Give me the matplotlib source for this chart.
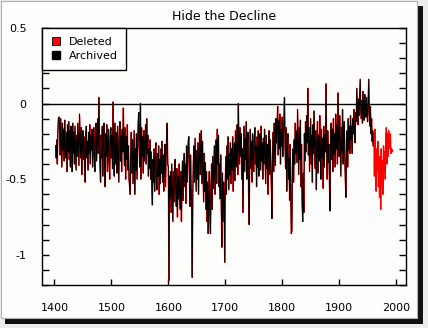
import numpy as np
import matplotlib
matplotlib.use("Agg")
import matplotlib.pyplot as plt
from matplotlib.lines import Line2D
from matplotlib.patches import Rectangle
from matplotlib.ticker import MultipleLocator, FuncFormatter

# tree ring density reconstruction, one value per year from 1402
start_year = 1402
archived_end = 1960

values_1400s = [
    -0.28, -0.36, -0.24, -0.40, -0.18, -0.10, -0.09, -0.16,
    -0.34, -0.10, -0.25, -0.42, -0.13, -0.31, -0.17, -0.38, -0.11, -0.29,
    -0.36, -0.19, -0.45, -0.14, -0.32, -0.12, -0.37, -0.18, -0.42, -0.15,
    -0.27, -0.45, -0.13, -0.33, -0.19, -0.40, -0.15, -0.30, -0.44, -0.21,
    -0.35, -0.13, -0.28, -0.41, -0.07, -0.22, -0.36, -0.16, -0.47, -0.28,
    -0.18, -0.37, -0.22, -0.43, -0.52, -0.20, -0.15, -0.36, -0.25, -0.44,
    -0.19, -0.33, -0.14, -0.40, -0.21, -0.31, -0.17, -0.42, -0.26, -0.16,
    -0.34, -0.45, -0.20, -0.13, -0.38, -0.24, -0.10, -0.33, 0.04, -0.22,
    -0.42, -0.52, -0.21, -0.36, -0.15, -0.48, -0.27, -0.13, -0.40, -0.55,
    -0.20, -0.35, -0.14, -0.45, -0.26, -0.17, -0.39, -0.50, -0.22, -0.16,
]
values_1500s = [
    -0.36, -0.21, -0.43, 0.01, -0.31, -0.48, -0.13, -0.40, -0.19, -0.30,
    -0.46, -0.15, -0.34, -0.52, -0.23, -0.12, -0.38, -0.21, -0.45, -0.17,
    -0.32, -0.03, -0.27, -0.41, -0.16, -0.50, -0.22, -0.37, -0.14, -0.44,
    -0.28, -0.50, -0.55, -0.60, -0.33, -0.19, -0.46, -0.24, -0.53, -0.36,
    -0.18, -0.60, -0.30, -0.44, -0.20, -0.50, -0.32, -0.13, -0.06, -0.30,
    -0.42, 0.00, -0.50, -0.16, -0.35, -0.22, -0.46, -0.18, -0.38, -0.27,
    -0.14, -0.40, -0.10, -0.33, -0.21, -0.48, -0.30, -0.43, -0.24, -0.50,
    -0.32, -0.55, -0.67, -0.37, -0.52, -0.30, -0.58, -0.35, -0.26, -0.50,
    -0.57, -0.33, -0.48, -0.28, -0.60, -0.37, -0.53, -0.30, -0.46, -0.25,
    -0.52, -0.34, -0.58, -0.40, -0.27, -0.55, -0.36, -0.22, -0.13, -0.40,
]
values_1600s = [
    -0.42, -1.17, -0.48, -0.62, -0.45, -0.72, -0.40, -0.60, -0.78, -0.45,
    -0.65, -0.42, -0.37, -0.58, -0.68, -0.43, -0.75, -0.48, -0.63, -0.40,
    -0.60, -0.70, -0.45, -0.78, -0.50, -0.38, -0.64, -0.42, -0.33, -0.55,
    -0.40, -0.66, -0.28, -0.52, -0.36, -0.25, -0.22, -0.50, -0.68, -0.34,
    -0.55, -0.70, -1.15, -0.58, -0.38, -0.28, -0.52, -0.23, -0.42, -0.58,
    -0.31, -0.50, -0.26, -0.60, -0.34, -0.20, -0.47, -0.28, -0.18, -0.53,
    -0.25, -0.44, -0.65, -0.33, -0.58, -0.39, -0.70, -0.45, -0.78, -0.52,
    -0.86, -0.60, -0.45, -0.74, -0.86, -0.55, -0.40, -0.70, -0.35, -0.56,
    -0.47, -0.28, -0.60, -0.38, -0.24, -0.53, -0.17, -0.40, -0.21, -0.55,
    -0.40, -0.63, -0.34, -0.68, -0.95, -0.46, -0.78, -0.52, -0.62, -1.05,
]
values_1700s = [
    -0.52, -0.35, -0.60, -0.28, -0.50, -0.22, -0.57, -0.33, -0.47, -0.26,
    -0.53, -0.30, -0.44, -0.22, -0.58, -0.34, -0.26, -0.51, -0.18, -0.42,
    -0.33, -0.14, -0.47, 0.00, -0.28, -0.40, -0.16, -0.35, -0.20, -0.50,
    -0.30, -0.72, -0.40, -0.15, -0.45, -0.23, -0.37, -0.12, -0.50, -0.28,
    -0.19, -0.60, -0.80, -0.36, -0.17, -0.43, -0.25, -0.52, -0.20, -0.35,
    -0.45, -0.24, -0.16, -0.40, -0.28, -0.55, -0.22, -0.42, -0.18, -0.48,
    -0.31, -0.20, -0.44, -0.15, -0.38, -0.26, -0.50, -0.23, -0.40, -0.17,
    -0.36, -0.53, -0.21, -0.43, -0.27, -0.60, -0.30, -0.18, -0.47, -0.24,
    -0.40, -0.56, -0.76, -0.35, -0.19, -0.45, -0.13, -0.32, -0.41, -0.10,
    -0.26, -0.16, -0.02, -0.34, -0.11, -0.30, -0.07, -0.40, -0.17, -0.28,
]
values_1800s = [
    -0.09, -0.35, -0.20, -0.12, 0.04, -0.28, -0.43, -0.16, -0.58, -0.32,
    -0.20, -0.50, -0.36, -0.64, -0.27, -0.54, -0.86, -0.84, -0.42, -0.30,
    -0.52, -0.24, -0.40, -0.13, -0.33, -0.18, -0.39, -0.04, -0.27, -0.47,
    -0.16, -0.37, -0.11, -0.55, -0.27, -0.65, -0.78, -0.46, -0.72, -0.20,
    -0.38, -0.12, -0.32, -0.08, -0.26, 0.10, -0.34, -0.16, -0.45, -0.28,
    -0.10, -0.40, -0.21, -0.52, -0.14, -0.33, -0.05, -0.27, -0.43, -0.18,
    -0.57, -0.27, -0.12, -0.46, -0.21, -0.38, -0.08, -0.33, -0.50, -0.17,
    -0.36, -0.23, -0.56, -0.15, -0.42, -0.20, -0.32, 0.13, -0.28, -0.50,
    -0.18, -0.39, -0.27, -0.53, -0.71, -0.22, -0.13, -0.37, -0.17, -0.45,
    -0.10, -0.33, -0.20, -0.42, -0.07, -0.30, -0.14, -0.40, 0.07, -0.22,
]
values_1900s = [
    -0.35, -0.08, -0.27, -0.48, -0.16, -0.32, -0.04, -0.40, -0.20, -0.12,
    -0.36, -0.52, -0.62, -0.24, -0.18, -0.42, -0.10, -0.31, -0.15, -0.33,
    -0.08, -0.24, -0.15, -0.33, -0.10, -0.20, -0.04, -0.18, -0.26, -0.06,
    -0.12, 0.10, -0.02, -0.14, 0.03, -0.08, 0.05, 0.16, -0.04, -0.10,
    0.02, -0.13, 0.08, -0.05, -0.11, 0.06, -0.03, -0.09, 0.04, -0.07,
    -0.12, 0.01, 0.16, -0.06, -0.15, -0.02, -0.20, -0.10, -0.25, -0.18,
    -0.28, -0.20, -0.48, -0.17, -0.35, -0.58, -0.30, -0.45, -0.25, -0.55,
    -0.40, -0.62, -0.35, -0.70, -0.30, -0.55, -0.38, -0.60, -0.28, -0.45,
    -0.32, -0.50, -0.22, -0.16, -0.40, -0.20, -0.35, -0.18, -0.30, -0.25,
    -0.20, -0.33, -0.30, -0.32, -0.31,
]

density = np.array(values_1400s + values_1500s + values_1600s +
                   values_1700s + values_1800s + values_1900s)
years = np.arange(start_year, start_year + len(density))
kept = years <= archived_end

fig = plt.figure(figsize=(4.28, 3.28), dpi=100)
fig.patch.set_facecolor("#ececec")

# card with drop shadow behind the plot
bg = fig.add_axes([0, 0, 1, 1], zorder=-1)
bg.set_xlim(0, 428)
bg.set_ylim(328, 0)
bg.axis("off")
bg.add_patch(Rectangle((5, 6), 418, 318, facecolor="#111111", edgecolor="none"))
bg.add_patch(Rectangle((1, 1), 416, 317, facecolor="#fdfdfb",
                       edgecolor="#b0b0b0", linewidth=0.8))

ax = fig.add_axes([0.098, 0.131, 0.850, 0.784])
ax.set_facecolor("#fdfdfb")

ax.plot(years, density, color="#ff0000", linewidth=1.0, zorder=2)
ax.plot(years[kept], density[kept], color="black", linewidth=0.65, zorder=3)
ax.axhline(0, color="black", linewidth=1.0, zorder=4)

ax.set_xlim(1378, 2017)
ax.set_ylim(-1.2, 0.5)
ax.set_xticks([1400, 1500, 1600, 1700, 1800, 1900, 2000])
ax.yaxis.set_major_locator(MultipleLocator(0.5))
ax.yaxis.set_minor_locator(MultipleLocator(0.1))
ax.yaxis.set_major_formatter(FuncFormatter(
    lambda v, p: "0" if abs(v) < 1e-9 else ("%g" % v)))

ax.tick_params(axis="x", direction="in", length=4.5, width=1, pad=13,
               labelsize=8, top=False)
ax.tick_params(axis="y", which="both", direction="in", length=5, width=1,
               left=True, right=True)
ax.tick_params(axis="y", which="major", pad=11, labelsize=8)
for s in ax.spines.values():
    s.set_linewidth(1.0)

ax.set_title("Hide the Decline", fontsize=9, pad=6)

handles = [
    Line2D([], [], linestyle="none", marker="s", markersize=6,
           markerfacecolor="#ff0000", markeredgecolor="black", markeredgewidth=0.6),
    Line2D([], [], linestyle="none", marker="s", markersize=6,
           markerfacecolor="black", markeredgecolor="black"),
]
leg = ax.legend(handles, ["Deleted", "Archived"], loc="upper left",
                borderaxespad=0, fancybox=False, framealpha=1, fontsize=8,
                handlelength=1.0, handletextpad=0.6, borderpad=0.8,
                labelspacing=0.35)
leg.get_frame().set_edgecolor("black")
leg.get_frame().set_linewidth(1.0)
leg.set_zorder(5)

fig.savefig("out.png", dpi=100, facecolor=fig.get_facecolor())
